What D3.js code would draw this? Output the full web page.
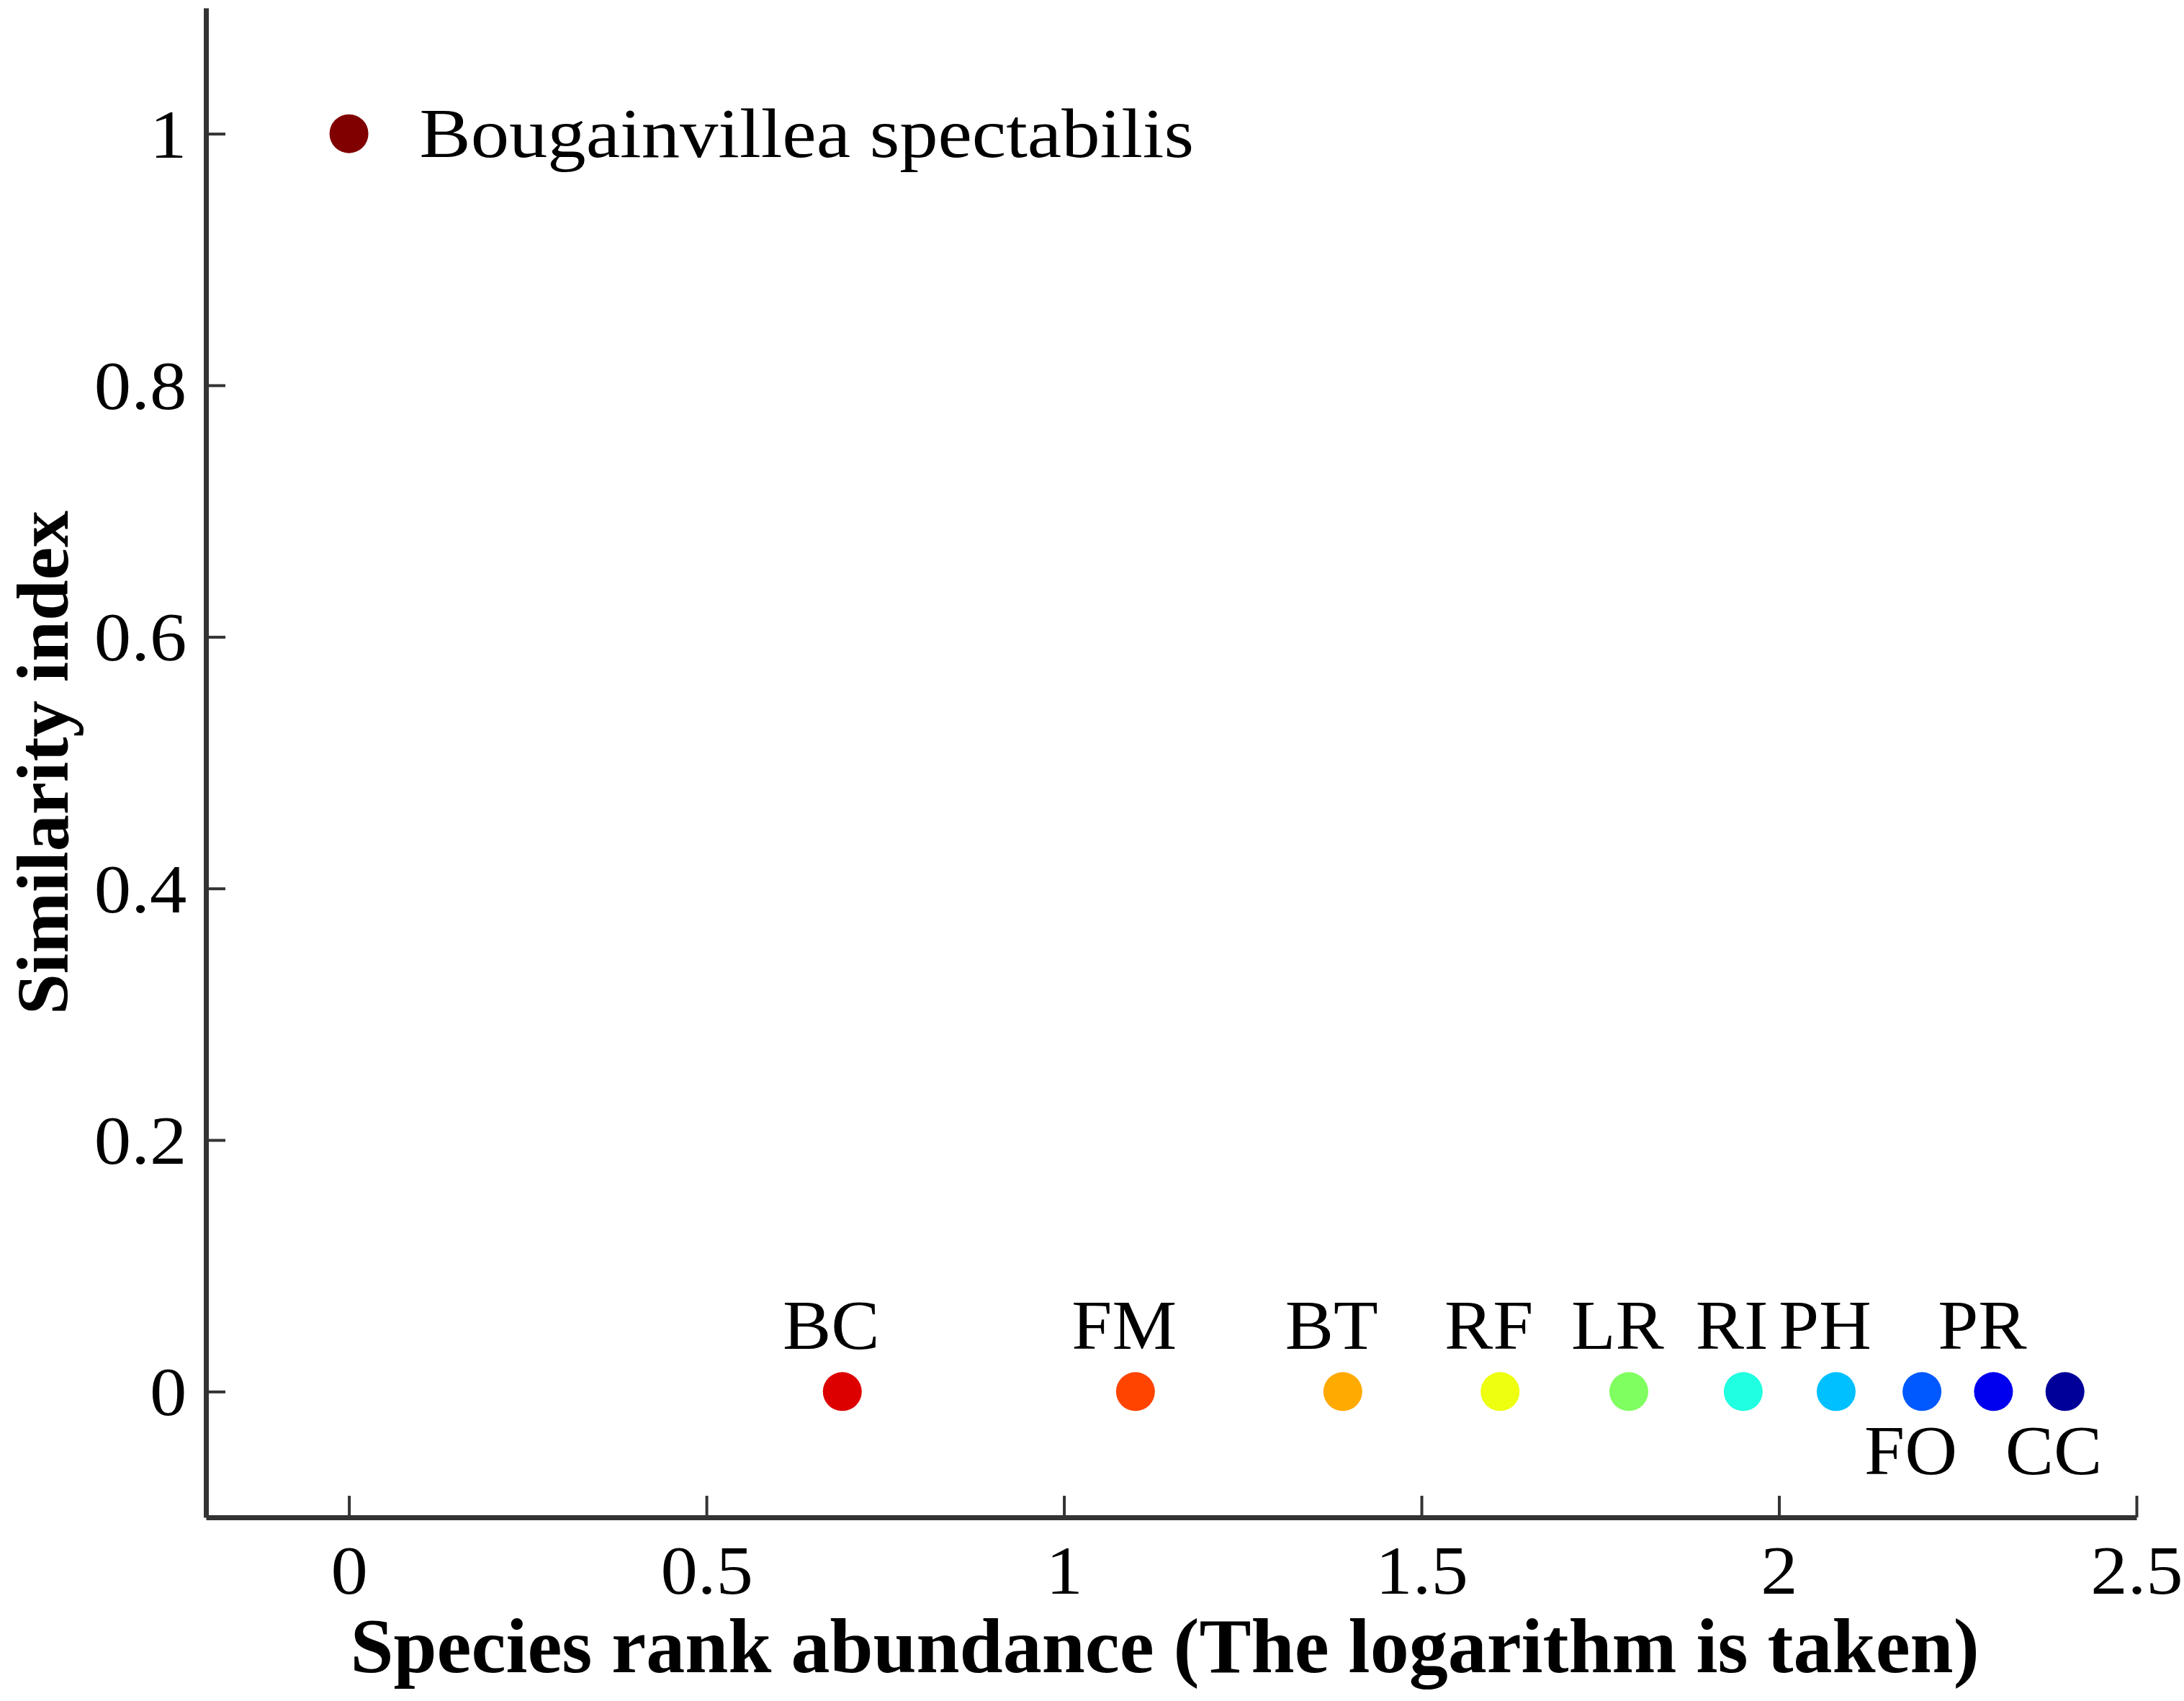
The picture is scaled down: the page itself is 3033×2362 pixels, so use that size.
<!DOCTYPE html>
<html>
<head>
<meta charset="utf-8">
<script src="https://cdn.jsdelivr.net/npm/d3@7"></script>
<style>
  body { margin:0; background:#fff; }
  svg text { font-family:"Liberation Serif","Times New Roman",serif; fill:#000; }
</style>
</head>
<body>
<div class="chart"></div>
<script>
const W = 3033, H = 2362;

// species codes, log rank abundance and similarity index
const species = ["Bougainvillea spectabilis","BC","FM","BT","RF","LR","RI","PH","FO","PR","CC"];
const logRank = [0, 0.69, 1.10, 1.39, 1.61, 1.79, 1.95, 2.08, 2.20, 2.30, 2.40];
const similarity = [1, 0, 0, 0, 0, 0, 0, 0, 0, 0, 0];
const colors = ["#800000","#dd0000","#ff4400","#ffaa00","#eeff10","#80ff60","#20ffe0","#00c0ff","#0058ff","#0000ee","#000099"];
// where each label sits: right of point, above or below
const labelPos = ["right","above","above","above","above","above","above","above","below","above","below"];

const xTicks = [0, 0.5, 1, 1.5, 2, 2.5];
const yTicks = [0, 0.2, 0.4, 0.6, 0.8, 1];

const data = species.map((s, i) => ({ name:s, x:logRank[i], y:similarity[i], color:colors[i], pos:labelPos[i] }));

const svg = d3.select(".chart").append("svg")
    .attr("width", W).attr("height", H);

let xScale = d3.scaleLinear().domain([-0.2, 2.5]).range([286, 2967]);
let yScale = d3.scaleLinear().domain([-0.1, 1.1]).range([2107, 11]);

// the source font is a bit wider than Times
const stretch = 1.07;

// x axis (ticks pointing inward)
svg.append("g")
    .attr("transform", `translate(0, ${yScale(-0.1)})`)
    .call(d3.axisBottom(xScale).tickValues(xTicks).tickFormat(d3.format("")).tickSizeInner(-30).tickSizeOuter(0).tickPadding(70))
    .call(g => g.select(".domain").attr("stroke", "#333").attr("stroke-width", 7))
    .call(g => g.selectAll(".tick line").attr("stroke", "#333").attr("stroke-width", 4))
    .call(g => g.selectAll(".tick text").attr("font-size", 96).attr("dy", "0.71em").attr("y", 38)
        .attr("transform", `scale(${stretch},1)`));

// y axis
svg.append("g")
    .attr("transform", `translate(${xScale(-0.2)}, 0)`)
    .call(d3.axisLeft(yScale).tickValues(yTicks).tickFormat(d3.format("")).tickSizeInner(-27).tickSizeOuter(0).tickPadding(30))
    .call(g => g.select(".domain").attr("stroke", "#333").attr("stroke-width", 7))
    .call(g => g.selectAll(".tick line").attr("stroke", "#333").attr("stroke-width", 4))
    .call(g => g.selectAll(".tick text").attr("font-size", 96).attr("x", -25).attr("dy", "0.34em")
        .attr("transform", `scale(${stretch},1)`));

// points
svg.selectAll(".pt")
    .data(data)
    .enter().append("circle")
    .attr("class", "pt")
    .attr("cx", d => xScale(d.x))
    .attr("cy", d => yScale(d.y))
    .attr("r", 27)
    .attr("fill", d => d.color);

// labels
svg.selectAll(".lbl")
    .data(data)
    .enter().append("text")
    .attr("class", "lbl")
    .attr("transform", d => `translate(${xScale(d.x)}, ${yScale(d.y)}) scale(${d.pos === "right" ? 1.1 : 1.04},1)`)
    .attr("font-size", 97)
    .attr("text-anchor", d => d.pos === "right" ? "start" : "middle")
    .attr("dx", d => d.pos === "right" ? 89 : -15)
    .attr("dy", d => d.pos === "right" ? 32 : (d.pos === "above" ? -59 : 115))
    .text(d => d.name);

// axis titles
svg.append("text")
    .attr("x", (xScale.range()[0] + xScale.range()[1]) / 2 - 9)
    .attr("y", 2322)
    .attr("text-anchor", "middle")
    .attr("font-size", 108)
    .attr("font-weight", "bold")
    .text("Species rank abundance (The logarithm is taken)");

svg.append("text")
    .attr("transform", `translate(94, ${yScale(0.5) + 0}) rotate(-90)`)
    .attr("text-anchor", "middle")
    .attr("font-size", 102)
    .attr("font-weight", "bold")
    .text("Similarity index");
</script>
</body>
</html>
